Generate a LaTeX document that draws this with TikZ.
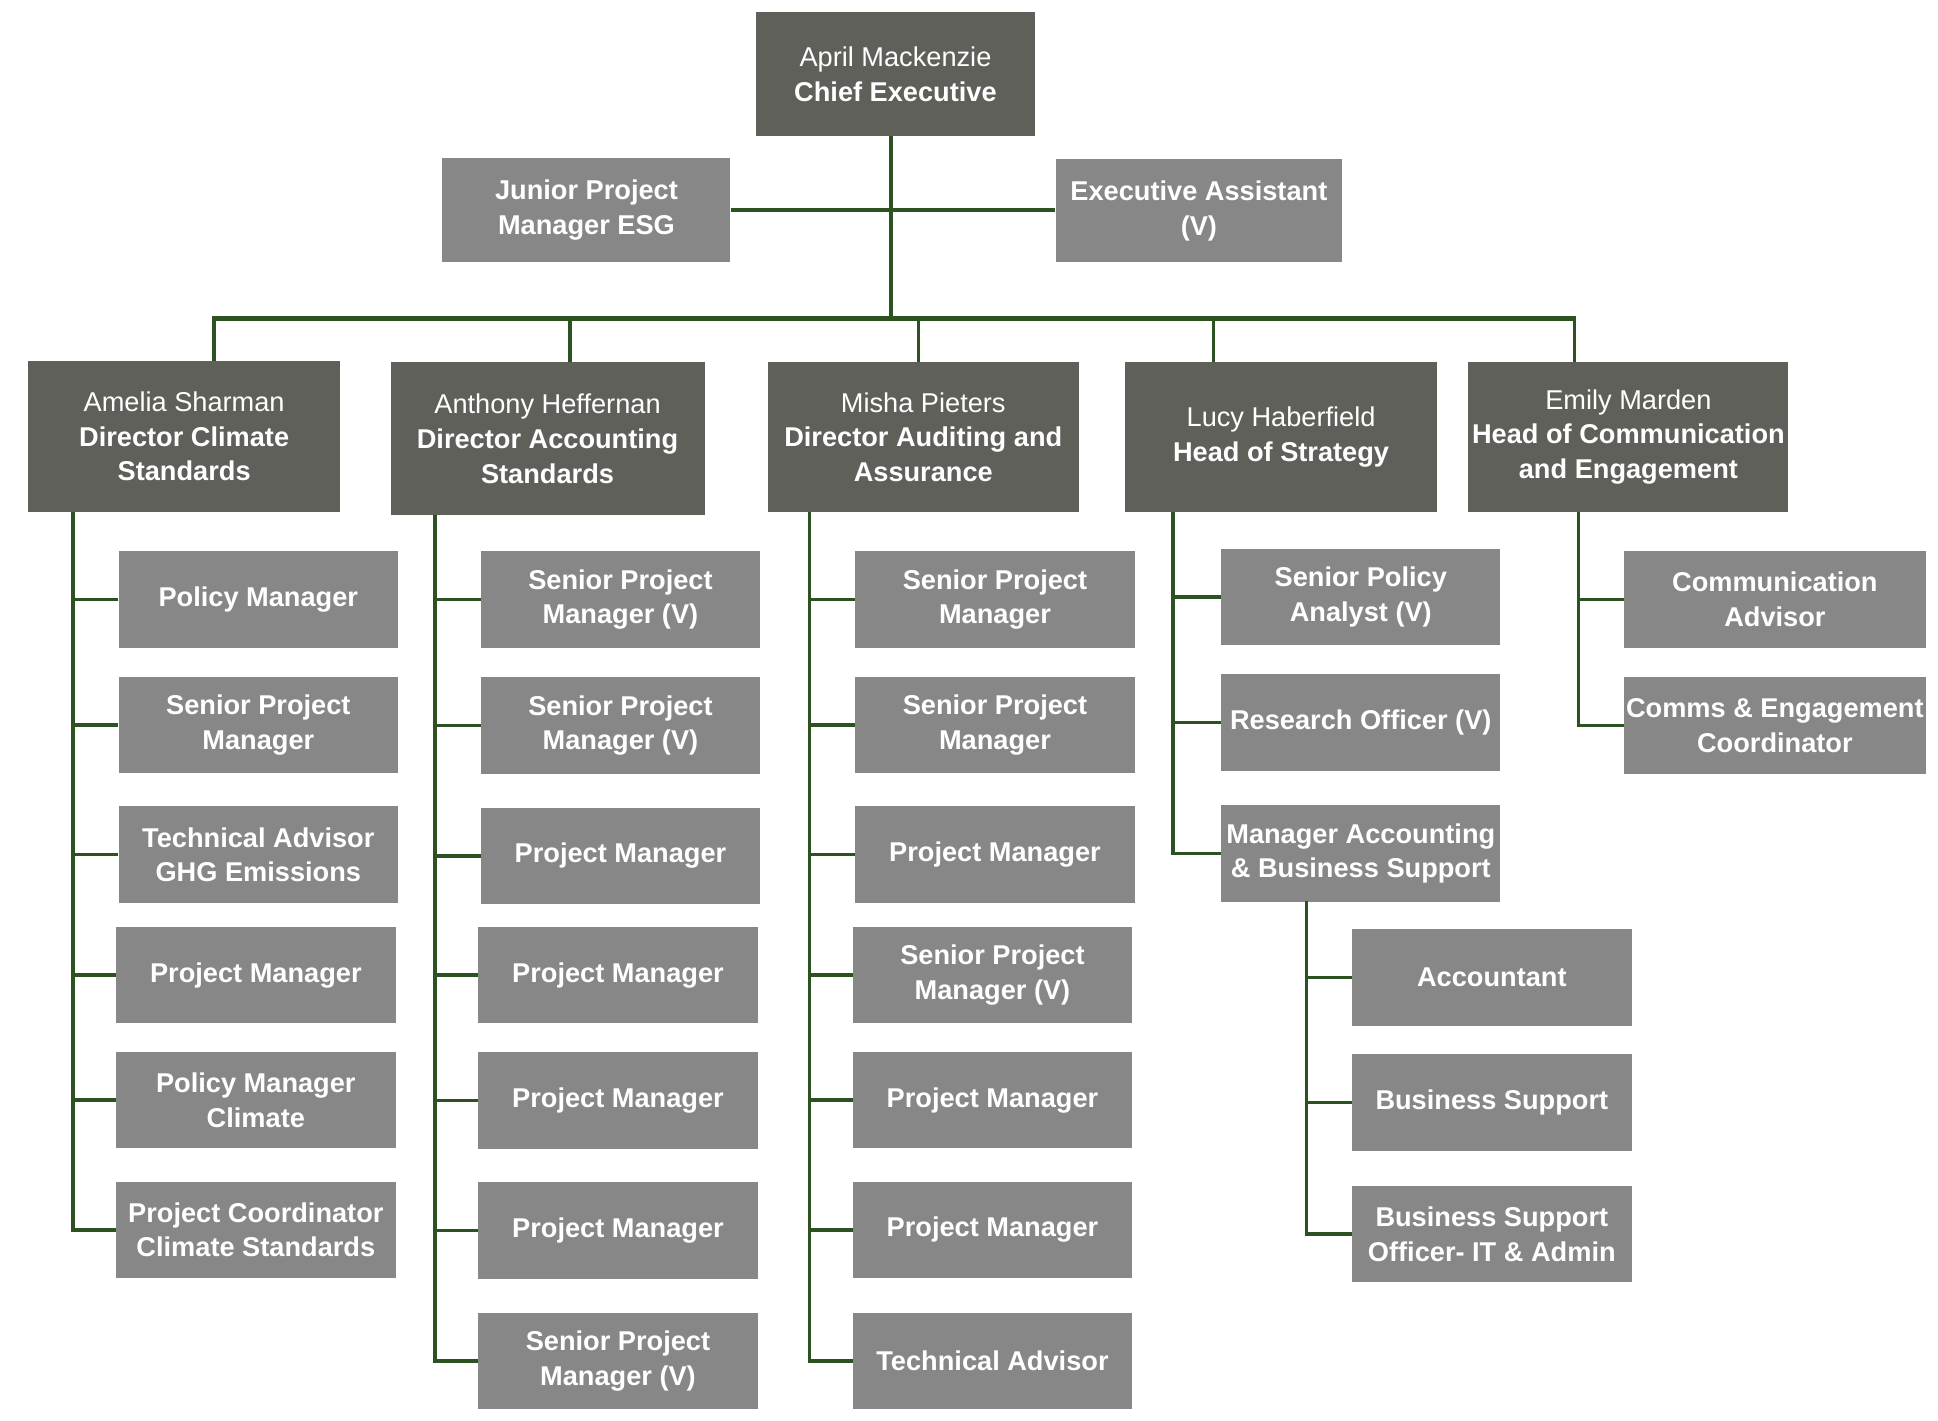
\documentclass[tikz,border=0pt]{standalone}
\usepackage{fontspec}
\setmainfont{Liberation Sans}
\definecolor{darkbox}{HTML}{5F605A}
\definecolor{lightbox}{HTML}{878787}
\definecolor{lnc}{HTML}{2B5220}
\tikzset{
  base/.style={text=white, align=center, inner sep=0pt, font=\fontsize{22}{28}\selectfont},
  dbox/.style={base, fill=darkbox},
  lbox/.style={base, fill=lightbox, font=\bfseries\fontsize{22}{28}\selectfont, minimum width=226pt, minimum height=78pt},
  ln/.style={draw=lnc, line width=2.8pt},
  thk/.style={draw=lnc, line width=3.4pt},
}
\newcommand{\bx}[1]{\textbf{#1}}
\begin{document}
\begin{tikzpicture}[x=1pt,y=-1pt]
\useasboundingbox (0,0) rectangle (1568,1149);
% top
\node[dbox, minimum width=225pt, minimum height=100pt] (ceo) at (724.5,60) {April Mackenzie\\\bx{Chief Executive}};
\node[lbox, minimum width=233pt, minimum height=84pt] (jp) at (474.5,170) {Junior Project\\Manager ESG};
\node[lbox, minimum width=232pt, minimum height=83pt] (ea) at (970,170.5) {Executive Assistant\\(V)};
% directors
\node[dbox, minimum width=252pt, minimum height=122pt] (d1) at (149,353) {Amelia Sharman\\\bx{Director Climate}\\\bx{Standards}};
\node[dbox, minimum width=254pt, minimum height=124pt] (d2) at (443,355) {Anthony Heffernan\\\bx{Director Accounting}\\\bx{Standards}};
\node[dbox, minimum width=252pt, minimum height=121pt] (d3) at (747,353.5) {Misha Pieters\\\bx{Director Auditing and}\\\bx{Assurance}};
\node[dbox, minimum width=253pt, minimum height=121pt] (d4) at (1036.5,353.5) {Lucy Haberfield\\\bx{Head of Strategy}};
\node[dbox, minimum width=259pt, minimum height=121pt] (d5) at (1317.5,353.5) {Emily Marden\\\bx{Head of Communication}\\\bx{and Engagement}};
% column 1
\node[lbox] (a1) at (209,485) {Policy Manager};
\node[lbox] (a2) at (209,586.5) {Senior Project\\Manager};
\node[lbox] (a3) at (209,691.5) {Technical Advisor\\GHG Emissions};
\node[lbox] (a4) at (207,789) {Project Manager};
\node[lbox] (a5) at (207,890) {Policy Manager\\Climate};
\node[lbox] (a6) at (207,995) {Project Coordinator\\Climate Standards};
% column 2
\node[lbox] (b1) at (502,485) {Senior Project\\Manager (V)};
\node[lbox] (b2) at (502,587) {Senior Project\\Manager (V)};
\node[lbox] (b3) at (502,692.5) {Project Manager};
\node[lbox] (b4) at (500,789) {Project Manager};
\node[lbox] (b5) at (500,890.5) {Project Manager};
\node[lbox] (b6) at (500,995.5) {Project Manager};
\node[lbox] (b7) at (500,1101) {Senior Project\\Manager (V)};
% column 3
\node[lbox] (c1) at (805,485) {Senior Project\\Manager};
\node[lbox] (c2) at (805,586.5) {Senior Project\\Manager};
\node[lbox] (c3) at (805,691.5) {Project Manager};
\node[lbox] (c4) at (803,789) {Senior Project\\Manager (V)};
\node[lbox] (c5) at (803,890) {Project Manager};
\node[lbox] (c6) at (803,995) {Project Manager};
\node[lbox] (c7) at (803,1101) {Technical Advisor};
% column 4
\node[lbox] (e1) at (1101,483) {Senior Policy\\Analyst (V)};
\node[lbox] (e2) at (1101,584.5) {Research Officer (V)};
\node[lbox] (e3) at (1101,690.5) {Manager Accounting\\\& Business Support};
\node[lbox] (f1) at (1207,791) {Accountant};
\node[lbox] (f2) at (1207,892) {Business Support};
\node[lbox] (f3) at (1207,998.5) {Business Support\\Officer- IT \& Admin};
% column 5
\node[lbox, minimum width=244pt] (g1) at (1436,485) {Communication\\Advisor};
\node[lbox, minimum width=244pt] (g2) at (1436,587) {Comms \& Engagement\\Coordinator};
% connectors top
\coordinate (hub) at (721,258);
\draw[ln] (ceo.south -| hub) -- (hub);
\draw[thk] (jp.east) -- (jp.east -| ea.west);
\coordinate (t1) at (173,258);
\coordinate (t2) at (461,258);
\coordinate (t3) at (743,258);
\coordinate (t4) at (982,258);
\coordinate (t5) at (1274,258);
\draw[thk, line width=4.2pt] ([xshift=-1.4pt]t1) -- ([xshift=1.4pt]t5);
\draw[ln] (t1) -- (t1 |- d1.north);
\draw[ln] (t2) -- (t2 |- d2.north);
\draw[ln] (t3) -- (t3 |- d3.north);
\draw[ln] (t4) -- (t4 |- d4.north);
\draw[ln] (t5) -- (t5 |- d5.north);
% spines
\coordinate (s1) at (59,414);
\coordinate (s2) at (352,417);
\coordinate (s3) at (655,414);
\coordinate (s4) at (949,414);
\coordinate (s5) at (1277,414);
\coordinate (s6) at (1057,729);
\draw[ln] (s1) |- (a6.west);
\foreach \n in {a1,a2,a3,a4,a5} \draw[ln] (\n.west) -- (\n.west -| s1);
\draw[ln] (s2) |- (b7.west);
\foreach \n in {b1,b2,b3,b4,b5,b6} \draw[ln] (\n.west) -- (\n.west -| s2);
\draw[ln] (s3) |- (c7.west);
\foreach \n in {c1,c2,c3,c4,c5,c6} \draw[ln] (\n.west) -- (\n.west -| s3);
\draw[ln] (s4) |- (e3.west);
\foreach \n in {e1,e2} \draw[ln] (\n.west) -- (\n.west -| s4);
\draw[ln] (s6) |- (f3.west);
\foreach \n in {f1,f2} \draw[ln] (\n.west) -- (\n.west -| s6);
\draw[ln] (s5) |- (g2.west);
\draw[ln] (g1.west) -- (g1.west -| s5);
\end{tikzpicture}
\end{document}
